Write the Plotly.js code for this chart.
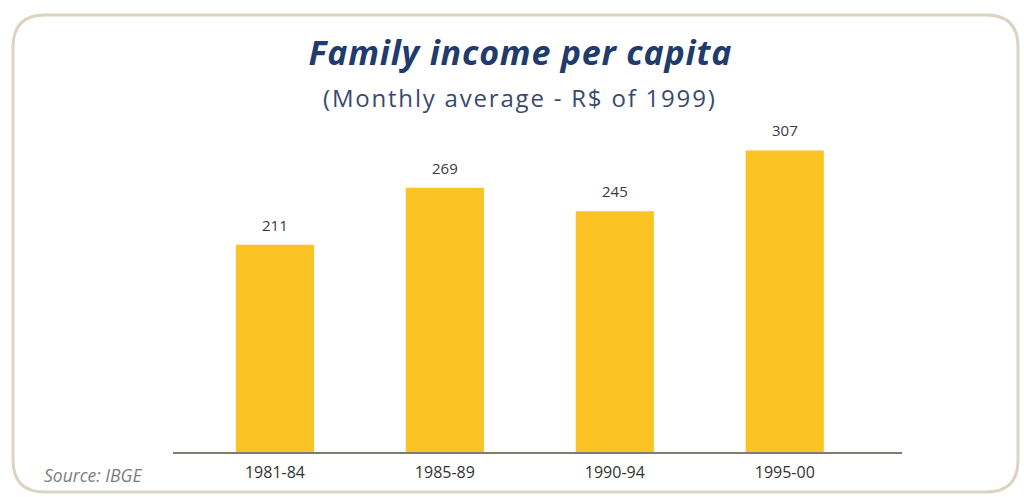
<!DOCTYPE html>
<html>
<head>
<meta charset="utf-8">
<script src="https://cdn.plot.ly/plotly-3.0.1.min.js"></script>
<style>
html,body{margin:0;padding:0;background:#fff;}
#chart{width:1024px;height:497px;}
</style>
</head>
<body>
<div id="chart"></div>
<script>
const categories = ["1981-84", "1985-89", "1990-94", "1995-00"];
const values = [211, 269, 245, 307];
const valueLabels = ["211", "269", "245", "307"];

const W = 1024, H = 497;
const M = {l: 173, r: 122, t: 120, b: 45};
const pw = W - M.l - M.r, ph = H - M.t - M.b;
const px = x => (x - M.l) / pw;
const py = y => (H - M.b - y) / ph;

// rounded border path in paper coords
const bx0 = 13, by0 = 15, bx1 = 1018, by1 = 492, r = 32;
const borderPath =
  `M ${px(bx0 + r)},${py(by0)} L ${px(bx1 - r)},${py(by0)} ` +
  `Q ${px(bx1)},${py(by0)} ${px(bx1)},${py(by0 + r)} ` +
  `L ${px(bx1)},${py(by1 - r)} Q ${px(bx1)},${py(by1)} ${px(bx1 - r)},${py(by1)} ` +
  `L ${px(bx0 + r)},${py(by1)} Q ${px(bx0)},${py(by1)} ${px(bx0)},${py(by1 - r)} ` +
  `L ${px(bx0)},${py(by0 + r)} Q ${px(bx0)},${py(by0)} ${px(bx0 + r)},${py(by0)} Z`;

const trace = {
  type: "bar",
  x: categories,
  y: values,
  width: 0.46,
  marker: {color: "#fbc424"},
  hoverinfo: "x+y"
};

const FONT = "Open Sans, sans-serif";

const annotations = categories.map((c, i) => ({
  x: c, y: values[i], xref: "x", yref: "y",
  text: valueLabels[i], showarrow: false,
  yanchor: "bottom", yshift: 8,
  font: {family: FONT, size: 15, color: "#3a3a3a"}
}));

annotations.push({
  text: "<b><i>Family income per capita</i></b>",
  xref: "paper", yref: "paper", x: px(520), y: py(52),
  showarrow: false, xanchor: "center", yanchor: "middle",
  font: {family: FONT, size: 34, color: "#213c6c"}
});
annotations.push({
  text: "(Monthly average - R$ of 1999)",
  xref: "paper", yref: "paper", x: px(520), y: py(97),
  showarrow: false, xanchor: "center", yanchor: "middle",
  font: {family: FONT, size: 24, color: "#3a4a6e"}
});
annotations.push({
  text: "<i>Source: IBGE</i>",
  xref: "paper", yref: "paper", x: px(42), y: py(475),
  showarrow: false, xanchor: "left", yanchor: "middle",
  font: {family: FONT, size: 17.5, color: "#7d7d7d"}
});

const layout = {
  width: W, height: H,
  margin: M,
  paper_bgcolor: "#ffffff",
  plot_bgcolor: "#ffffff",
  showlegend: false,
  xaxis: {
    type: "category",
    range: [-0.6, 3.69],
    showline: true, linecolor: "#7d7d73", linewidth: 2,
    showgrid: false, zeroline: false,
    ticks: "outside", ticklen: 5, tickcolor: "rgba(0,0,0,0)",
    tickfont: {family: FONT, size: 16, color: "#333333"},
    fixedrange: true
  },
  yaxis: {
    range: [0, 338],
    visible: false,
    showgrid: false, zeroline: false,
    fixedrange: true
  },
  annotations: annotations,
  shapes: [{
    type: "path", xref: "paper", yref: "paper",
    path: borderPath,
    line: {color: "#dcd4c3", width: 3},
    fillcolor: "rgba(0,0,0,0)",
    layer: "below"
  }]
};

Plotly.newPlot("chart", [trace], layout, {displayModeBar: false, staticPlot: true}).then(() => {
  document.querySelectorAll("#chart .annotation-text").forEach(t => {
    const s = t.textContent;
    if (s.indexOf("(Monthly") === 0) t.style.letterSpacing = "1.8px";
    else if (s.indexOf("Family") === 0) t.style.letterSpacing = "0.8px";
  });
});
</script>
</body>
</html>
